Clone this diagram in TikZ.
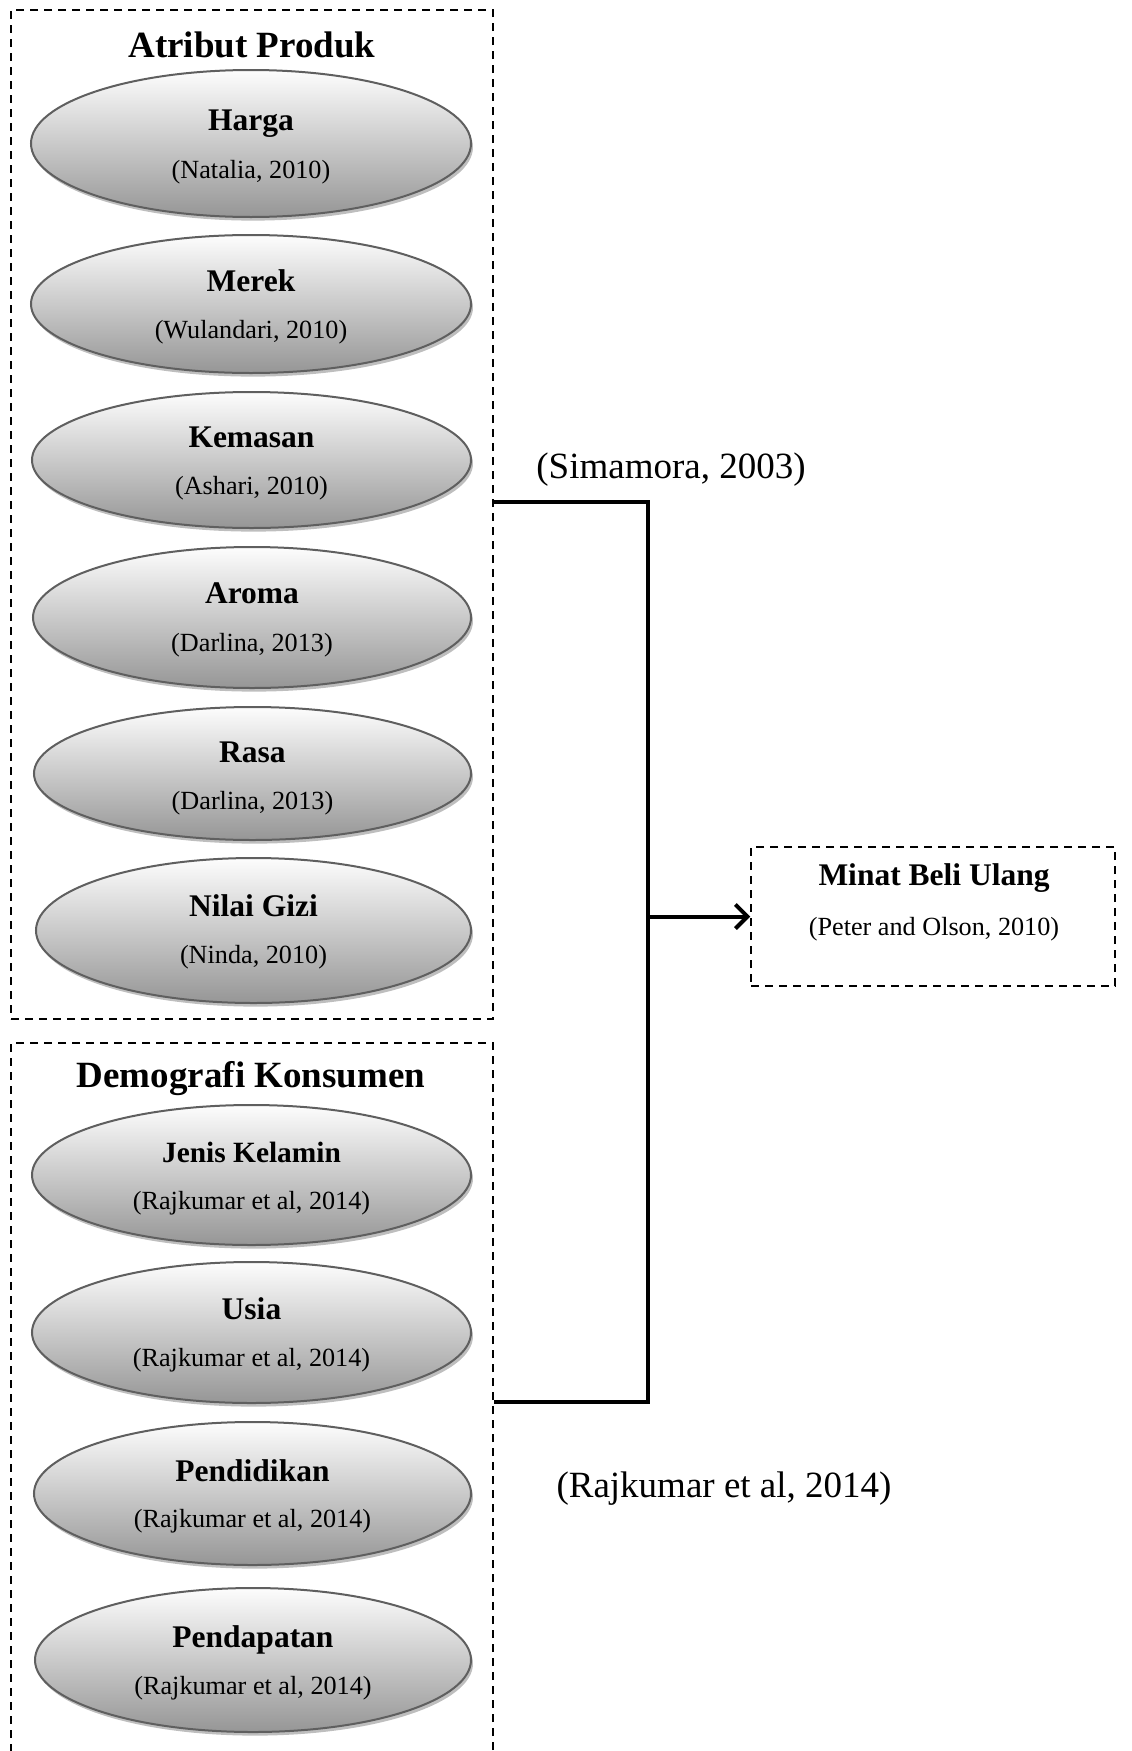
\documentclass[tikz,border=0pt]{standalone}
\usepackage{fontspec}
\setmainfont{Liberation Serif}
\usetikzlibrary{shapes.geometric,arrows.meta,shadows,calc}
\definecolor{ovalline}{RGB}{95,95,95}
\definecolor{ovaltop}{RGB}{253,253,253}
\definecolor{ovalbot}{RGB}{150,150,150}
\definecolor{shadowgray}{RGB}{190,190,190}
\begin{document}
\begin{tikzpicture}[x=0.5pt,y=-0.5pt,
  oval/.style={ellipse, draw=ovalline, line width=1pt, top color=ovaltop, bottom color=ovalbot,
    inner sep=0pt, minimum width=220pt,
    drop shadow={shadow xshift=1pt, shadow yshift=-1.8pt, fill=shadowgray, opacity=1}},
  ttl/.style={font=\bfseries\fontsize{15.75}{18}\selectfont, inner sep=0pt},
  ttlsm/.style={font=\bfseries\fontsize{14.7}{17}\selectfont, inner sep=0pt},
  sub/.style={font=\fontsize{13.1}{15}\selectfont, inner sep=0pt},
  big/.style={font=\fontsize{18.5}{22}\selectfont, inner sep=0pt},
  bigb/.style={font=\bfseries\fontsize{18.5}{22}\selectfont, inner sep=0pt},
  grp/.style={draw, dash pattern=on 4pt off 3pt, line width=0.75pt, inner sep=0pt},
  conn/.style={line width=2pt}]
\useasboundingbox (0,0) rectangle (1131,1751);
\clip (0,0) rectangle (1131,1751);

% group boxes
\node[grp, minimum width=241pt, minimum height=504.5pt] (atr) at (252,514.5) {};
\node[grp, minimum width=241pt, minimum height=378.5pt] (dem) at (252,1421.5) {};
\node[grp, minimum width=182pt, minimum height=69.5pt] (minat) at (933,916.5) {};

\node[bigb] (atrt) at (252,45) {Atribut Produk};
\node[bigb] (demt) at (251,1079) {Demografi Konsumen};

% Atribut Produk ellipses
\node[oval, minimum height=73.5pt] (e1) at (251,143.5) {};
\node[ttl] (e1t) at (251,124) {Harga};
\node[sub] (e1s) at (251,172) {(Natalia, 2010)};

\node[oval, minimum height=69pt] (e2) at (251,304) {};
\node[ttl] (e2t) at (251,280.5) {Merek};
\node[sub] (e2s) at (251,332) {(Wulandari, 2010)};

\node[oval, minimum width=219.5pt, minimum height=68pt] (e3) at (251.5,460) {};
\node[ttl] (e3t) at (251.5,437.5) {Kemasan};
\node[sub] (e3s) at (251.5,488.5) {(Ashari, 2010)};

\node[oval, minimum width=219pt, minimum height=70.5pt] (e4) at (252,617.5) {};
\node[ttl] (e4t) at (252,593) {Aroma};
\node[sub] (e4s) at (252,645) {(Darlina, 2013)};

\node[oval, minimum width=218.5pt, minimum height=66.5pt] (e5) at (252.5,773.5) {};
\node[ttl] (e5t) at (252.5,752) {Rasa};
\node[sub] (e5s) at (252.5,803.5) {(Darlina, 2013)};

\node[oval, minimum width=217.5pt, minimum height=72.5pt] (e6) at (253.5,930.5) {};
\node[ttl] (e6t) at (253.5,906) {Nilai Gizi};
\node[sub] (e6s) at (253.5,957) {(Ninda, 2010)};

% Demografi Konsumen ellipses
\node[oval, minimum width=219.5pt, minimum height=70pt] (e7) at (251.5,1175) {};
\node[ttlsm] (e7t) at (251.5,1152) {Jenis Kelamin};
\node[sub] (e7s) at (251.5,1203) {(Rajkumar et al, 2014)};

\node[oval, minimum width=219.5pt, minimum height=70.5pt] (e8) at (251.5,1332.5) {};
\node[ttl] (e8t) at (251.5,1309) {Usia};
\node[sub] (e8s) at (251.5,1360) {(Rajkumar et al, 2014)};

\node[oval, minimum width=218.5pt, minimum height=71.5pt] (e9) at (252.5,1493.5) {};
\node[ttl] (e9t) at (252.5,1471) {Pendidikan};
\node[sub] (e9s) at (252.5,1521.5) {(Rajkumar et al, 2014)};

\node[oval, minimum width=218pt, minimum height=72pt] (e10) at (253,1660) {};
\node[ttl] (e10t) at (253,1640) {Pendapatan};
\node[sub] (e10s) at (253,1688) {(Rajkumar et al, 2014)};

% target
\node[ttl] (mt) at (934,878) {Minat Beli Ulang};
\node[sub] (ms) at (934,929) {(Peter and Olson, 2010)};

% side labels
\node[big] (sim) at (671,470) {(Simamora, 2003)};
\node[big] (raj) at (724,1488.5) {(Rajkumar et al, 2014)};

% connectors
\coordinate (j1) at (648,502);
\coordinate (j2) at (648,1402);
\draw[conn] (j1 -| atr.east) -- (j1) -- (j2) -- (j2 -| dem.east);
\draw[conn, -{Straight Barb[length=6pt,width=12pt]}] (minat.west -| j1) -- (minat.west);
\end{tikzpicture}
\end{document}
